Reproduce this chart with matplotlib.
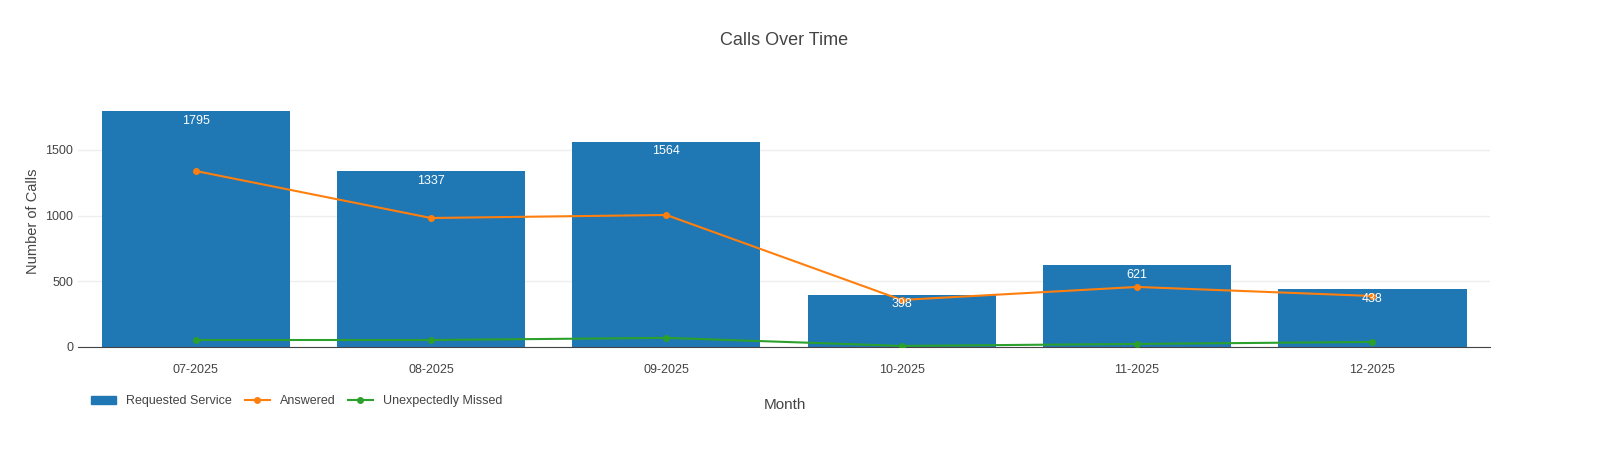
import matplotlib
matplotlib.use("Agg")
import matplotlib.pyplot as plt
from matplotlib.lines import Line2D
from matplotlib.patches import Patch

months = ["07-2025", "08-2025", "09-2025", "10-2025", "11-2025", "12-2025"]
requested = [1795, 1337, 1564, 398, 621, 438]
answered = [1340, 982, 1005, 358, 457, 388]
missed = [53, 53, 69, 8, 23, 38]

plt.rcParams['font.family'] = ['Liberation Sans', 'DejaVu Sans']
fig = plt.figure(figsize=(16.01, 4.5), dpi=100)
ax = fig.add_axes([0.0487, 0.229, 0.882, 0.56])
x = list(range(len(months)))
ax.bar(x, requested, width=0.8, color="#1f77b4", zorder=2)
for xi, v in zip(x, requested):
    ax.text(xi, v - 25, str(v), ha="center", va="top", color="white", fontsize=9, zorder=5)
ax.plot(x, answered, color="#ff7f0e", marker="o", markersize=4, lw=1.5, zorder=3)
ax.plot(x, missed, color="#2ca02c", marker="o", markersize=4, lw=1.5, zorder=3)
ax.set_xlim(-0.5, 5.5)
ax.set_ylim(0, 1919)
ax.set_yticks([0, 500, 1000, 1500])
ax.set_xticks(x)
ax.set_xticklabels(months)
ax.grid(axis="y", color="#eeeeee", lw=1, zorder=0)
for s in ["top", "right", "left"]:
    ax.spines[s].set_visible(False)
ax.spines["bottom"].set_color("#444444")
ax.tick_params(length=0, colors="#444444", labelsize=9)
ax.tick_params(axis="x", pad=12)
ax.set_ylabel("Number of Calls", color="#444444", fontsize=10.5)
fig.text(0.49, 0.092, "Month", ha="center", color="#444444", fontsize=11)
fig.text(0.49, 0.9, "Calls Over Time", ha="center", color="#444444", fontsize=13)
handles = [Patch(color="#1f77b4"),
           Line2D([], [], color="#ff7f0e", marker="o", markersize=4),
           Line2D([], [], color="#2ca02c", marker="o", markersize=4)]
fig.legend(handles, ["Requested Service", "Answered", "Unexpectedly Missed"],
           loc="lower left", bbox_to_anchor=(0.05, 0.07), ncol=3, frameon=False,
           fontsize=9, handlelength=2, columnspacing=1, labelcolor="#444444")
fig.savefig("out.png", dpi=100)
